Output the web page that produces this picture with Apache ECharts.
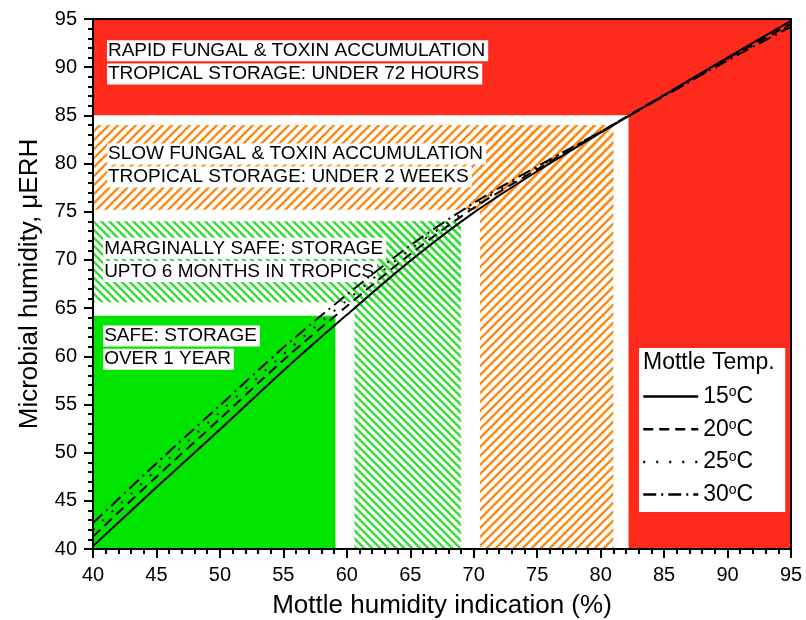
<!DOCTYPE html>
<html>
<head>
<meta charset="utf-8">
<script src="https://cdn.jsdelivr.net/npm/echarts@6/dist/echarts.min.js"></script>
<style>
  html, body { margin: 0; padding: 0; background: #fff; }
  #chart { width: 806px; height: 620px; }
</style>
</head>
<body>
<div id="chart"></div>
<script>
// mottle humidity indication (%) and microbial humidity (uERH) per mottle temperature
var mottle = [40, 45, 50, 55, 60, 65, 70, 75, 80, 85, 90, 95];
var temps = ['15°C', '20°C', '25°C', '30°C'];
var erh15 = [40.3, 46.4, 52.4, 58.5, 64.3, 69.9, 74.9, 79.2, 83.2, 87.1, 91.0, 94.8];
var erh20 = [41.3, 47.5, 53.5, 59.6, 65.2, 70.6, 75.4, 79.4, 83.3, 87.1, 90.9, 94.5];
var erh25 = [42.0, 48.2, 54.2, 60.2, 65.8, 71.1, 75.6, 79.6, 83.3, 87.0, 90.8, 94.4];
var erh30 = [42.7, 48.9, 54.9, 60.9, 66.4, 71.5, 75.9, 79.7, 83.3, 87.0, 90.7, 94.2];

// zones: [x1, y1, x2, y2]
var redZones = [[40, 85, 95, 95], [82.2, 40, 95, 95]];
var orangeZones = [[40, 75.2, 81, 84], [70.5, 40, 81, 84]];
var greenHatchZones = [[40, 65.6, 69, 74], [60.6, 40, 69, 74]];
var greenZones = [[40, 40, 59.1, 64.2]];

// zone notes
var notes = [
    'RAPID FUNGAL & TOXIN ACCUMULATION', 'TROPICAL STORAGE: UNDER 72 HOURS',
    'SLOW FUNGAL & TOXIN ACCUMULATION', 'TROPICAL STORAGE: UNDER 2 WEEKS',
    'MARGINALLY SAFE: STORAGE', 'UPTO 6 MONTHS IN TROPICS',
    'SAFE: STORAGE', 'OVER 1 YEAR'
];
var noteAt = [
    [41.1, 91.7], [41.1, 89.3],
    [41.1, 81.0], [41.1, 78.6],
    [40.8, 71.2], [40.8, 68.8],
    [40.8, 62.1], [40.8, 59.7]
];

var FONT = '"Liberation Sans", Arial, sans-serif';

function hatch(color, size, dir) {
    var c = document.createElement('canvas');
    c.width = c.height = size;
    var g = c.getContext('2d');
    g.strokeStyle = color;
    g.lineWidth = 2.4;
    g.beginPath();
    if (dir > 0) {
        g.moveTo(-1, size + 1); g.lineTo(size + 1, -1);
        g.moveTo(-1, 1); g.lineTo(1, -1);
        g.moveTo(size - 1, size + 1); g.lineTo(size + 1, size - 1);
    } else {
        g.moveTo(-1, -1); g.lineTo(size + 1, size + 1);
        g.moveTo(size - 1, -1); g.lineTo(size + 1, 1);
        g.moveTo(-1, size - 1); g.lineTo(1, size + 1);
    }
    g.stroke();
    return { image: c, repeat: 'repeat' };
}

function zones(list, color) {
    return list.map(function (z) {
        return [{ coord: [z[0], z[1]], itemStyle: { color: color, borderWidth: 0, opacity: 1 } },
                { coord: [z[2], z[3]] }];
    });
}

var orangeHatch = hatch('#ff8a14', 9, 1);
var greenHatch = hatch('#33dd33', 8, -1);

var areaData = []
    .concat(zones(redZones, '#fe2a1c'))
    .concat(zones(orangeZones, orangeHatch))
    .concat(zones(greenHatchZones, greenHatch))
    .concat(zones(greenZones, '#00e400'));

var styles = [
    [0, 0],
    [10, 6],
    [2, 11],
    [13, 5, 2, 5]
];
var values = [erh15, erh20, erh25, erh30];

var lineSeries = temps.map(function (t, k) {
    return {
        name: t,
        type: 'line',
        smooth: 0.3,
        symbol: 'none',
        z: 4,
        color: '#000',
        lineStyle: { color: '#000', width: 2, type: k === 0 ? 'solid' : styles[k] },
        data: mottle.map(function (x, i) { return [x, values[k][i]]; })
    };
});

var axisCommon = {
    type: 'value',
    min: 40,
    max: 95,
    interval: 5,
    z: 5,
    axisLine: { show: true, onZero: false, lineStyle: { color: '#000', width: 2 } },
    splitLine: { show: false }
};

var myChart = echarts.init(document.getElementById('chart'));
var option = {
    animation: false,
    backgroundColor: '#fff',
    textStyle: { fontFamily: FONT },
    grid: { left: 93, right: 15, top: 19, bottom: 71, containLabel: false, outerBoundsMode: 'none' },
    title: {
        text: 'Mottle Temp.',
        left: 643,
        top: 351,
        padding: 0,
        textStyle: { fontFamily: FONT, fontSize: 23, fontWeight: 'normal', color: '#000' }
    },
    legend: {
        orient: 'vertical',
        left: 639,
        top: 348,
        data: temps,
        backgroundColor: '#fff',
        padding: [37, 32, 6, 3],
        itemWidth: 55,
        itemHeight: 14,
        itemGap: 9.7,
        itemStyle: { color: 'rgba(0,0,0,0)', borderWidth: 0, opacity: 0 },
        lineStyle: { width: 2.5 },
        formatter: function (name) { return name.replace('°', '{s|o}'); },
        textStyle: {
            fontFamily: FONT, fontSize: 23, color: '#000',
            rich: { s: { fontFamily: FONT, fontSize: 14, verticalAlign: 'top', color: '#000' } }
        }
    },
    xAxis: [
        Object.assign({}, axisCommon, {
            position: 'bottom',
            name: 'Mottle humidity indication (%)',
            nameLocation: 'middle',
            nameGap: 44,
            nameTextStyle: { fontFamily: FONT, fontSize: 26, color: '#000' },
            axisTick: { show: true, inside: false, length: 9, lineStyle: { color: '#000', width: 2 } },
            minorTick: { show: true, splitNumber: 5, length: 5, lineStyle: { color: '#000', width: 2 } },
            axisLabel: { fontFamily: FONT, fontSize: 20, color: '#000', margin: 16 }
        }),
        Object.assign({}, axisCommon, {
            position: 'top',
            axisTick: { show: false },
            axisLabel: { show: false }
        })
    ],
    yAxis: [
        Object.assign({}, axisCommon, {
            position: 'left',
            name: 'Microbial humidity, μERH',
            nameLocation: 'middle',
            nameGap: 50,
            nameTextStyle: { fontFamily: FONT, fontSize: 26, color: '#000' },
            axisTick: { show: true, inside: false, length: 9, lineStyle: { color: '#000', width: 2 } },
            minorTick: { show: true, splitNumber: 5, length: 5, lineStyle: { color: '#000', width: 2 } },
            axisLabel: { fontFamily: FONT, fontSize: 20, color: '#000', margin: 16 }
        }),
        Object.assign({}, axisCommon, {
            position: 'right',
            axisTick: { show: false },
            axisLabel: { show: false }
        })
    ],
    series: [
        {
            name: 'zones',
            type: 'scatter',
            data: [],
            z: 1,
            silent: true,
            markArea: { silent: true, data: areaData }
        },
        {
            name: 'notes',
            type: 'scatter',
            z: 3,
            silent: true,
            symbolSize: 0,
            itemStyle: { opacity: 1 },
            emphasis: { disabled: true },
            data: noteAt,
            label: {
                show: true,
                position: 'right',
                distance: 0,
                formatter: function (p) { return notes[p.dataIndex]; },
                fontFamily: FONT,
                fontSize: 19,
                lineHeight: 20,
                color: '#000',
                opacity: 1,
                backgroundColor: '#fff',
                padding: [1, 3, 0, 1]
            }
        }
    ].concat(lineSeries)
};
myChart.setOption(option);
</script>
</body>
</html>
